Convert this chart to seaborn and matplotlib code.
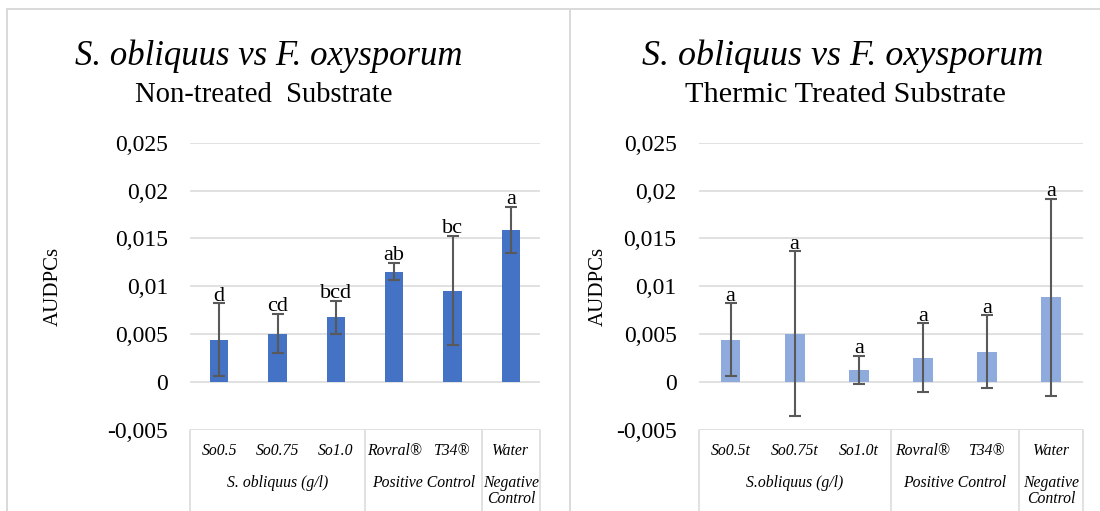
import numpy as np
import pandas as pd
import matplotlib
matplotlib.use("Agg")
import matplotlib.pyplot as plt
import seaborn as sns
from matplotlib.lines import Line2D

# ---------------- data ----------------
cats_left = ["So0.5", "So0.75", "So1.0", "Rovral®", "T34®", "Water"]
mean_left = [0.00442, 0.00504, 0.00677, 0.01153, 0.00955, 0.01587]
err_left = [0.0038, 0.00205, 0.0017, 0.0009, 0.0057, 0.0024]
letters_left = ["d", "cd", "bcd", "ab", "bc", "a"]
groups_left = ["S. obliquus (g/l)", "Positive Control", "Negative\nControl"]

cats_right = ["So0.5t", "So0.75t", "So1.0t", "Rovral®", "T34®", "Water"]
mean_right = [0.00442, 0.00504, 0.00129, 0.00254, 0.00317, 0.00885]
err_right = [0.0038, 0.0086, 0.00144, 0.0036, 0.0038, 0.0103]
letters_right = ["a", "a", "a", "a", "a", "a"]
groups_right = ["S.obliquus (g/l)", "Positive Control", "Negative\nControl"]

group_spans = [(0, 2), (3, 4), (5, 5)]

title = "S. obliquus vs F. oxysporum"
subtitle_left = "Non-treated  Substrate"
subtitle_right = "Thermic Treated Substrate"
ylabel = "AUDPCs"
yticks = [-0.005, 0, 0.005, 0.01, 0.015, 0.02, 0.025]
ytick_labels = ["-0,005", "0", "0,005", "0,01", "0,015", "0,02", "0,025"]

color_left = "#4472C4"
color_right = "#8FAADC"
grid_color = "#D9D9D9"
err_color = "#595959"

# ---------------- figure ----------------
sns.set_style("white")
plt.rcParams["font.family"] = ["Liberation Serif", "DejaVu Serif"]
plt.rcParams["text.color"] = "#000000"
plt.rcParams["axes.labelcolor"] = "#000000"
plt.rcParams["xtick.color"] = "#000000"
plt.rcParams["ytick.color"] = "#000000"

W, H = 1100, 511
fig = plt.figure(figsize=(W / 100, H / 100), dpi=100)


def fx(px):
    return px / W


def fy(py):
    return 1 - py / H


AX_TOP, AX_BOT = 142.7, 430.0


def make_panel(x0, x1, cats, means, errs, letters, groups, color,
               sub, title_cx, sub_cx, ylab_cx, title_fs, sub_fs):
    ax = fig.add_axes([fx(x0), fy(AX_BOT), (x1 - x0) / W, (AX_BOT - AX_TOP) / H])
    df = pd.DataFrame({"cat": cats, "val": means})
    sns.barplot(data=df, x="cat", y="val", order=cats, color=color,
                saturation=1, width=0.31, errorbar=None, linewidth=0, ax=ax)
    ax.errorbar(np.arange(len(cats)), means, yerr=errs, fmt="none",
                ecolor=err_color, elinewidth=1.5, capsize=4.3, capthick=1.5,
                zorder=5)
    for i, (m, e, lt) in enumerate(zip(means, errs, letters)):
        ax.annotate(lt, (i, m + e), xytext=(0, 2), textcoords="offset points",
                    ha="center", va="baseline", fontsize=16, color="#000000",
                    zorder=6)
    ax.set_xlim(-0.5, len(cats) - 0.5)
    ax.set_ylim(-0.005, 0.025)
    ax.set_yticks(yticks, ytick_labels)
    ax.tick_params(axis="y", length=0, pad=15.8, labelsize=17, labelcolor="#000000")
    ax.set_xticks([])
    ax.set_xlabel("")
    ax.set_ylabel("")
    for s in ax.spines.values():
        s.set_visible(False)
    ax.set_axisbelow(True)
    ax.yaxis.grid(True, color=grid_color, linewidth=1.1)
    ax.xaxis.grid(False)

    def ay(py):
        return (AX_BOT - py) / (AX_BOT - AX_TOP)

    tr = ax.get_xaxis_transform()
    # category table lines
    bounds = [-0.5] + [g[1] + 0.5 for g in group_spans]
    for b in bounds:
        ax.add_line(Line2D([b, b], [0, ay(H + 2)], transform=tr, color=grid_color,
                           linewidth=1.1, clip_on=False))
    for i, c in enumerate(cats):
        ax.text(i, ay(455), c, transform=tr, ha="center", va="baseline",
                fontsize=11.3, style="italic", clip_on=False)
    for (a, b), g in zip(group_spans, groups):
        for k, line in enumerate(g.split("\n")):
            ax.text((a + b) / 2, ay(486.5 + 16.5 * k), line, transform=tr,
                    ha="center", va="baseline", fontsize=11.3, style="italic",
                    clip_on=False)
    # titles
    fig.text(fx(title_cx), fy(65), title, ha="center", va="baseline",
             fontsize=title_fs, style="italic")
    fig.text(fx(sub_cx), fy(102), sub, ha="center", va="baseline", fontsize=sub_fs)
    fig.text(fx(ylab_cx), fy(286.4), ylabel, rotation=90, ha="center", va="center",
             fontsize=15)
    return ax


make_panel(190, 540, cats_left, mean_left, err_left, letters_left, groups_left,
           color_left, subtitle_left, 268.5, 264, 53, 25, 20.6)
make_panel(698.5, 1083, cats_right, mean_right, err_right, letters_right,
           groups_right, color_right, subtitle_right, 842.5, 845, 598, 25.9, 21.8)

# outer chart borders
for xs, ys in [([7, W], [9, 9]), ([7, 7], [9, H]), ([570, 570], [9, H])]:
    fig.add_artist(Line2D([fx(x) for x in xs], [fy(y) for y in ys],
                          color=grid_color, linewidth=1.4))

fig.savefig("out.png", dpi=100, facecolor="white")
